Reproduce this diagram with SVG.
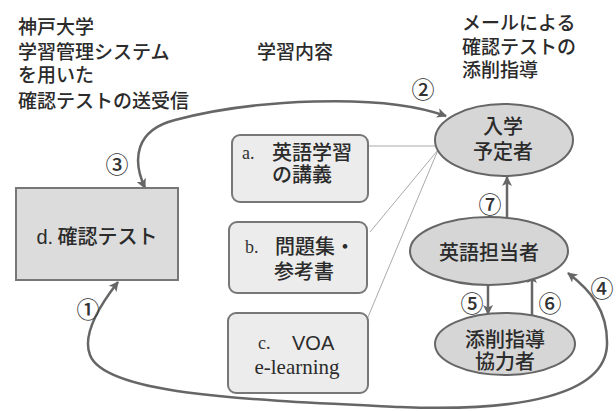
<svg xmlns="http://www.w3.org/2000/svg" width="616" height="411" viewBox="0 0 616 411">
<defs>
<marker id="ah" viewBox="0 0 10 10" refX="9" refY="5" markerWidth="4" markerHeight="4" orient="auto-start-reverse" markerUnits="strokeWidth">
<path d="M0,0 L10,5 L0,10 L2.5,5 Z" fill="#666"/>
</marker>
<style>
.jp{font-family:"Noto Sans CJK JP","Liberation Sans",sans-serif;fill:#2b2b2b;font-size:19px;font-weight:500}
.lab{font-family:"Noto Sans CJK JP","Liberation Sans",sans-serif;fill:#2b2b2b;font-size:20px;font-weight:500}
.ser{font-family:"Liberation Serif",serif;fill:#333;font-size:18px}
.num{font-family:"Noto Sans CJK JP","DejaVu Sans",sans-serif;fill:#333;font-size:23px;font-weight:500;text-anchor:middle;dominant-baseline:central}
.ell{fill:#d6d6d6;stroke:#666;stroke-width:2}
.box{fill:#ececec;stroke:#777;stroke-width:2}
.conn{fill:none;stroke:#666;stroke-width:2.5}
.thin{fill:none;stroke:#aaa;stroke-width:1}
.arr{fill:none;stroke:#666;stroke-width:2.5;marker-end:url(#ah)}
.mid{text-anchor:middle}
</style>
</defs>
<rect width="616" height="411" fill="#fff"/>
<g id="titles">
<text class="jp" x="18" y="34">神戸大学</text>
<text class="jp" x="18" y="59">学習管理システム</text>
<text class="jp" x="18" y="82">を用いた</text>
<text class="jp" x="18" y="108">確認テストの送受信</text>
<text class="jp" x="257" y="59">学習内容</text>
<text class="jp" x="462" y="30">メールによる</text>
<text class="jp" x="462" y="54">確認テストの</text>
<text class="jp" x="462" y="77">添削指導</text>
</g>
<g id="connectors">
<path class="thin" d="M368,146 L437,146"/>
<path class="thin" d="M370,232 L438,150"/>
<path class="thin" d="M368,317 L438,150"/>
<path class="conn" d="M145,188 C132,160 135,130 175,120 C250,100 380,92 446,116" marker-start="url(#ah)" marker-end="url(#ah)"/>
<path class="conn" d="M118,282 C100,305 82,335 90,355 C105,395 250,400 400,407 C520,412 605,395 607,345 C608,310 590,290 568,273" marker-start="url(#ah)" marker-end="url(#ah)"/>
<path class="arr" d="M507,217 L507,177"/>
<path class="arr" d="M488,277 L488,314"/>
<path class="arr" d="M532,315 L532,274"/>
<text class="num" x="423" y="88">②</text>
<text class="num" x="117" y="163">③</text>
<text class="num" x="88" y="308">①</text>
<text class="num" x="490" y="203">⑦</text>
<text class="num" x="472" y="302">⑤</text>
<text class="num" x="550" y="302">⑥</text>
<text class="num" x="602" y="287">④</text>
</g>
<g id="node-d">
<rect x="16" y="188" width="162" height="92" fill="#dcdcdc" stroke="#777" stroke-width="2"/>
<text class="lab" x="97" y="244" text-anchor="middle"><tspan font-family="Liberation Sans,sans-serif">d.</tspan> 確認テスト</text>
</g>
<g id="node-a">
<rect class="box" x="232" y="135" width="136" height="67" rx="8"/>
<text class="ser" x="242" y="159">a.</text>
<text class="lab" x="272" y="160">英語学習</text>
<text class="lab" x="272" y="182">の講義</text>
</g>
<g id="node-b">
<rect class="box" x="229" y="222" width="138" height="71" rx="8"/>
<text class="ser" x="245" y="253">b.</text>
<text class="lab" x="275" y="254">問題集・</text>
<text class="lab" x="274" y="279">参考書</text>
</g>
<g id="node-c">
<rect class="box" x="228" y="313" width="140" height="80" rx="8"/>
<text class="ser" x="258" y="349">c.</text>
<text x="292" y="350" font-family="Liberation Sans,sans-serif" font-size="20" fill="#2b2b2b">VOA</text>
<text x="297" y="374" font-family="Liberation Serif,serif" font-size="21" fill="#2b2b2b" text-anchor="middle">e-learning</text>
</g>
<g id="node-nyugaku">
<ellipse class="ell" cx="504" cy="140" rx="69" ry="36"/>
<text class="lab mid" x="503" y="134">入学</text>
<text class="lab mid" x="503" y="159">予定者</text>
</g>
<g id="node-eigo">
<ellipse class="ell" cx="489" cy="251" rx="79" ry="34"/>
<text class="lab mid" x="489" y="260">英語担当者</text>
</g>
<g id="node-tensaku">
<ellipse class="ell" cx="505" cy="344" rx="70" ry="31"/>
<text class="lab mid" x="505" y="347">添削指導</text>
<text class="lab mid" x="505" y="369">協力者</text>
</g>
</svg>
